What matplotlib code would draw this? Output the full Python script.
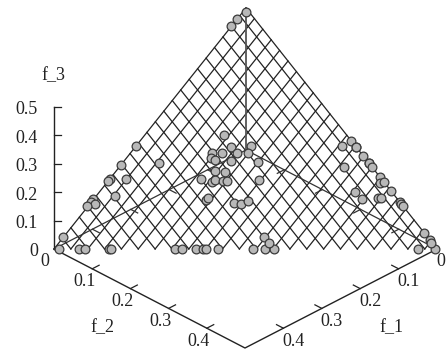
"""Pareto front of a three objective problem, drawn as a gnuplot style splot."""

import numpy as np
import matplotlib
matplotlib.use("Agg")
import matplotlib.pyplot as plt

plt.rcParams["font.family"] = ["Liberation Serif", "DejaVu Serif"]

# objective values of the solutions
f_1 = [.494, .468, .460, .428, .425, .342, .333, .314, .306, .301, .286, .240, .225, .213, .025, .002,
       .286, .325, .2745, .354, .359, .334, .398, .403, .399, .413, .366, .476,
       .160, .163, .136, .163, .148, .195, .182, .2015, .197, .178, .1435, .2095, .198, .236, .225, .219,
       .209, .203, .161, .2505, .246, .2175, .2095, .197, .214, .213,
       .004, .023, .038,
       .000, .0175, .000, .000, .000, .000, .000, .000, .0365, .000, .006, .000, .000, .0485, .045, .025,
       .0205, .000, .000, .000, .000, .000, .0015]
f_2 = [.006, .032, .040, .072, .075, .158, .167, .186, .194, .199, .214, .260, .275, .287, .475, .498,
       .000, .000, .0475, .000, .000, .021, .000, .000, .007, .000, .025, .000,
       .103, .125, .150, .139, .154, .106, .119, .1105, .118, .139, .1765, .1285, .143, .119, .137, .138,
       .150, .155, .196, .1475, .149, .1865, .1965, .203, .261, .275,
       .004, .000, .000,
       .275, .2685, .289, .288, .307, .321, .3225, .330, .2925, .351, .358, .3615, .379, .3335, .350, .370,
       .3745, .402, .406, .411, .4665, .482, .4865]
f_3 = [.000, .000, .000, .000, .000, .000, .000, .000, .000, .000, .000, .000, .000, .000, .000, .000,
       .214, .175, .178, .146, .141, .145, .105, .097, .094, .090, .109, .024,
       .2365, .212, .214, .1985, .1985, .1985, .1985, .188, .185, .183, .180, .162, .159, .145, .1385, .143,
       .141, .142, .1425, .102, .105, .096, .094, .100, .0255, .012,
       .492, .477, .463,
       .225, .214, .211, .212, .193, .179, .1775, .170, .171, .149, .136, .1385, .121, .118, .1045, .105,
       .105, .098, .094, .089, .0335, .018, .012]

axis_ticks = [0.1, 0.2, 0.3, 0.4]
z_ticks = [0, 0.1, 0.2, 0.3, 0.4, 0.5]
mesh_step = 0.022
mesh_lines = 23
f_max = 0.5
ink = "#222222"


def project(a, b, c):
    """View transform of the splot, result in figure pixels."""
    a, b, c = np.asarray(a, float), np.asarray(b, float), np.asarray(c, float)
    x = 246 - 384 * a + 382 * b
    y = 150 + 198 * a + 198 * b - 284 * c
    return x, y


fig = plt.figure(figsize=(4.46, 3.49), dpi=100)
ax = fig.add_axes([0, 0, 1, 1])
ax.set_xlim(0, 446)
ax.set_ylim(349, 0)
ax.axis("off")

# the mesh on the plane f_1 + f_2 + f_3 = 0.5, it starts from the left corner
for k in range(mesh_lines):
    level = k * mesh_step
    # f_2 constant, runs from the edge f_1 = 0 down to the floor
    ax.plot(*project([0, f_max - level], [level, level], [f_max - level, 0]), color=ink, lw=0.9, zorder=2)
    # f_1 constant, runs from the edge f_2 = 0 down to the floor
    ax.plot(*project([f_max - level, f_max - level], [0, level], [level, 0]), color=ink, lw=0.9, zorder=2)
ax.plot(*project([0, 0], [0, f_max], [f_max, 0]), color=ink, lw=0.9, zorder=2)

# border of the box
ax.plot(*project([f_max, f_max, 0], [0, f_max, f_max], [0, 0, 0]), color=ink, lw=1, zorder=3)
ax.plot(*project([f_max, 0, 0], [0, 0, f_max], [0, 0, 0]), color="#333333", lw=0.9, zorder=3)
ax.plot(*project([0, 0], [0, 0], [0, f_max]), color="#555555", lw=1.3, zorder=3)
ax.plot(*project([f_max, f_max], [0, 0], [0, f_max]), color=ink, lw=1, zorder=3)

# ticks and their labels
tick = 0.018
for t in axis_ticks:
    ax.plot(*project([f_max, f_max - tick], [t, t], [0, 0]), color=ink, lw=0.9, zorder=3)
    ax.plot(*project([t, t], [f_max, f_max - tick], [0, 0]), color=ink, lw=0.9, zorder=3)
    ax.plot(*project([t, t], [0, tick], [0, 0]), color="#333333", lw=0.9, zorder=3)
    ax.plot(*project([0, tick], [t, t], [0, 0]), color="#333333", lw=0.9, zorder=3)
    x, y = project(f_max, t, 0)
    ax.text(x - 8, y + 13, f"{t:g}", ha="center", va="center", fontsize=13, color=ink)
    x, y = project(t, f_max, 0)
    ax.text(x + 10, y + 13, f"{t:g}", ha="center", va="center", fontsize=13, color=ink)
for t in z_ticks:
    x, y = project(f_max, 0, t)
    ax.plot([x, x + 7], [y, y], color=ink, lw=0.9, zorder=3)
    ax.text(x - 16, y + 3, f"{t:g}", ha="right", va="center", fontsize=13, color=ink)

ax.text(45, 261, "0", ha="center", va="center", fontsize=13, color=ink)
ax.text(445.5, 261, "0", ha="right", va="center", fontsize=13, color=ink)
ax.text(53, 76, "f_3", ha="center", va="center", fontsize=13, color=ink)
ax.text(102, 328, "f_2", ha="center", va="center", fontsize=13, color=ink)
ax.text(391, 328, "f_1", ha="center", va="center", fontsize=13, color=ink)

px, py = project(f_1, f_2, f_3)
ax.plot(px, py, "o", ms=6.3, mfc="#b8b8b8", mec="#3a3a3a", mew=0.9, ls="none", zorder=4, clip_on=False)

fig.savefig("out.png", dpi=100)
